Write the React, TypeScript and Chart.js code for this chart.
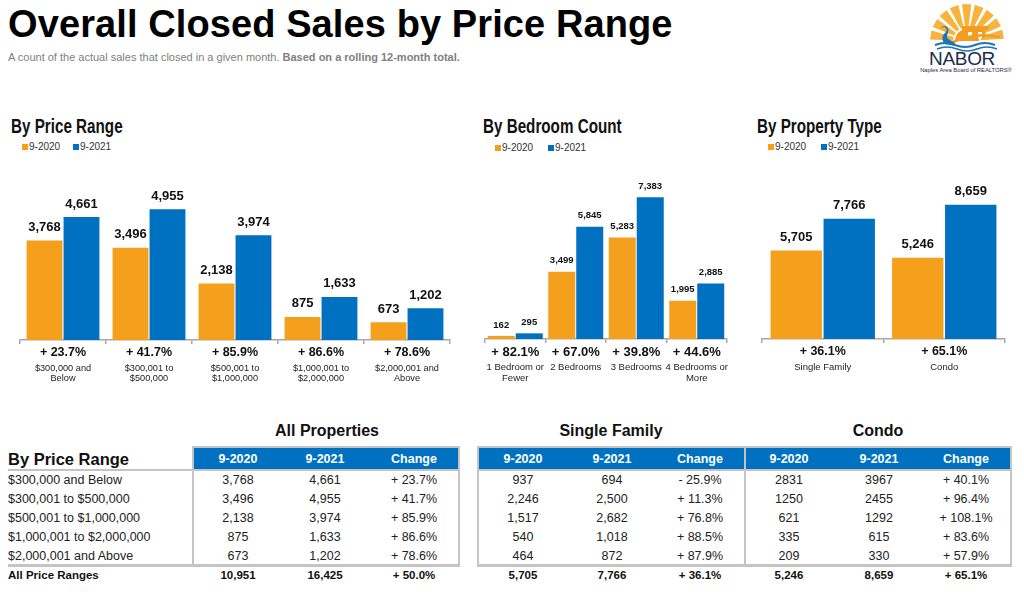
import React, { useEffect, useRef } from 'react';
import { Chart, registerables } from 'chart.js';

Chart.register(...registerables);

// ---------- data ----------
const seriesLabels = ['9-2020', '9-2021'];

const priceCategories = [
  ['$300,000 and', 'Below'],
  ['$300,001 to', '$500,000'],
  ['$500,001 to', '$1,000,000'],
  ['$1,000,001 to', '$2,000,000'],
  ['$2,000,001 and', 'Above'],
];
const price2020 = [3768, 3496, 2138, 875, 673];
const price2021 = [4661, 4955, 3974, 1633, 1202];
const priceChange = ['+ 23.7%', '+ 41.7%', '+ 85.9%', '+ 86.6%', '+ 78.6%'];

const bedroomCategories = [['1 Bedroom or', 'Fewer'], ['2 Bedrooms'], ['3 Bedrooms'], ['4 Bedrooms or', 'More']];
const bedroom2020 = [162, 3499, 5283, 1995];
const bedroom2021 = [295, 5845, 7383, 2885];
const bedroomChange = ['+ 82.1%', '+ 67.0%', '+ 39.8%', '+ 44.6%'];

const typeCategories = [['Single Family'], ['Condo']];
const type2020 = [5705, 5246];
const type2021 = [7766, 8659];
const typeChange = ['+ 36.1%', '+ 65.1%'];

const tableRanges = [
  '$300,000 and Below',
  '$300,001 to $500,000',
  '$500,001 to $1,000,000',
  '$1,000,001 to $2,000,000',
  '$2,000,001 and Above',
];
const tableHeaders = ['9-2020', '9-2021', 'Change'];
const all2020 = ['3,768', '3,496', '2,138', '875', '673'];
const all2021 = ['4,661', '4,955', '3,974', '1,633', '1,202'];
const allChange = ['+ 23.7%', '+ 41.7%', '+ 85.9%', '+ 86.6%', '+ 78.6%'];
const sf2020 = ['937', '2,246', '1,517', '540', '464'];
const sf2021 = ['694', '2,500', '2,682', '1,018', '872'];
const sfChange = ['- 25.9%', '+ 11.3%', '+ 76.8%', '+ 88.5%', '+ 87.9%'];
const condo2020 = ['2831', '1250', '621', '335', '209'];
const condo2021 = ['3967', '2455', '1292', '615', '330'];
const condoChange = ['+ 40.1%', '+ 96.4%', '+ 108.1%', '+ 83.6%', '+ 57.9%'];
const totalLabel = 'All Price Ranges';
const allTotal = ['10,951', '16,425', '+ 50.0%'];
const sfTotal = ['5,705', '7,766', '+ 36.1%'];
const condoTotal = ['5,246', '8,659', '+ 65.1%'];

// ---------- styles ----------
const ORANGE = '#F5A01D';
const BLUE = '#0070C0';
const GRAY_LINE = '#C4C4C4';
const FONT = '"Liberation Sans", Arial, Helvetica, sans-serif';

const valueLabels = {
  id: 'valueLabels',
  afterDatasetsDraw(chart: any, _args: any, opts: any) {
    const ctx = chart.ctx;
    ctx.save();
    ctx.font = `bold ${opts.size}px ${FONT}`;
    ctx.fillStyle = '#111';
    ctx.textAlign = 'center';
    ctx.textBaseline = 'middle';
    chart.data.datasets.forEach((ds: any, di: number) => {
      const meta = chart.getDatasetMeta(di);
      meta.data.forEach((bar: any, i: number) => {
        ctx.fillText(Number(ds.data[i]).toLocaleString('en-US'), bar.x, bar.y - opts.offset);
      });
    });
    ctx.restore();
  },
};

type BarProps = {
  cats: string[][];
  pct: string[];
  a: number[];
  b: number[];
  yMax: number;
  left: number;
  top: number;
  width: number;
  height: number;
  padL: number;
  padR: number;
  catPct: number;
  barPct: number;
  valueSize: number;
  valueOffset: number;
  pctSize: number;
  catSize: number;
  axisH: number;
};

function BarChart(p: BarProps) {
  const ref = useRef<HTMLCanvasElement | null>(null);
  useEffect(() => {
    if (!ref.current) return;
    const chart = new Chart(ref.current, {
      type: 'bar',
      data: {
        labels: p.pct,
        datasets: [
          { label: seriesLabels[0], data: p.a, backgroundColor: ORANGE, categoryPercentage: p.catPct, barPercentage: p.barPct },
          { label: seriesLabels[1], data: p.b, backgroundColor: BLUE, categoryPercentage: p.catPct, barPercentage: p.barPct },
        ],
      },
      options: {
        animation: false,
        responsive: false,
        maintainAspectRatio: false,
        layout: { padding: { left: p.padL, right: p.padR, top: 0, bottom: 0 } },
        plugins: {
          legend: { display: false },
          tooltip: { enabled: false },
          valueLabels: { size: p.valueSize, offset: p.valueOffset },
        } as any,
        scales: {
          y: { display: false, min: 0, max: p.yMax },
          x: {
            type: 'category',
            position: 'bottom',
            weight: 0,
            offset: true,
            grid: { display: true, drawOnChartArea: false, drawTicks: true, tickLength: 4, color: '#A8A8A8', offset: true, lineWidth: 1.5 },
            border: { display: true, color: '#A8A8A8', width: 1.5 },
            ticks: { font: { family: FONT, size: p.pctSize, weight: 'bold' }, color: '#111', padding: 1.5, maxRotation: 0, autoSkip: false },
            afterFit: (s: any) => { s.height = p.axisH; },
          },
          x2: {
            type: 'category',
            labels: p.cats as any,
            position: 'bottom',
            weight: 1,
            offset: true,
            grid: { display: false, drawTicks: false, tickLength: 0 },
            border: { display: false },
            ticks: { font: { family: FONT, size: p.catSize, lineHeight: 1.1 }, color: '#222', padding: 1.5, maxRotation: 0, autoSkip: false },
            afterFit: (s: any) => { s.height = 30; },
          },
        } as any,
      },
      plugins: [valueLabels as any],
    });
    return () => chart.destroy();
  }, []);
  return (
    <canvas
      ref={ref}
      width={p.width}
      height={p.height}
      style={{ position: 'absolute', left: p.left, top: p.top, width: p.width, height: p.height }}
    />
  );
}

const abs = (x: number, y: number, style: any, align: 'left' | 'center' = 'center') => ({
  position: 'absolute' as const,
  left: x,
  top: y,
  transform: align === 'center' ? 'translate(-50%, -50%)' : 'translate(0, -50%)',
  whiteSpace: 'nowrap' as const,
  lineHeight: 1,
  ...style,
});

function SectionTitle({ x, y, text }: { x: number; y: number; text: string }) {
  return (
    <div
      style={{
        position: 'absolute',
        left: x,
        top: y,
        transform: 'translate(0, -50%) scaleX(0.78)',
        transformOrigin: '0 50%',
        whiteSpace: 'nowrap',
        lineHeight: 1,
        fontSize: 19.5,
        fontWeight: 'bold',
        color: '#111',
        fontFamily: FONT,
      }}
    >
      {text}
    </div>
  );
}

function Legend({ x1, x2, y }: { x1: number; x2: number; y: number }) {
  const sq = (x: number, c: string) => (
    <div style={{ position: 'absolute', left: x, top: y - 3, width: 6, height: 6, background: c }} />
  );
  const st = { fontSize: 10, color: '#333', fontFamily: FONT };
  return (
    <>
      {sq(x1, ORANGE)}
      <div style={abs(x1 + 7, y, st, 'left')}>{seriesLabels[0]}</div>
      {sq(x2, BLUE)}
      <div style={abs(x2 + 7, y, st, 'left')}>{seriesLabels[1]}</div>
    </>
  );
}

const rowYs = [480, 499, 518, 537, 556];
const TOTAL_Y = 576;

function Box({ l, t, w, h, c }: { l: number; t: number; w: number; h: number; c: string }) {
  return <div style={{ position: 'absolute', left: l, top: t, width: w, height: h, background: c }} />;
}

function DataCols({ xs, cols, total }: { xs: number[]; cols: string[][]; total: string[] }) {
  const cell = { fontSize: 12.5, color: '#222', fontFamily: FONT };
  const bold = { fontSize: 11.5, color: '#111', fontWeight: 'bold', fontFamily: FONT };
  const head = { fontSize: 12.5, color: '#fff', fontWeight: 'bold', fontFamily: FONT };
  return (
    <>
      {tableHeaders.map((h, i) => (
        <div key={'h' + i} style={abs(xs[i], 458.5, head)}>{h}</div>
      ))}
      {cols.map((col, ci) =>
        col.map((v, ri) => (
          <div key={ci + '-' + ri} style={abs(xs[ci], rowYs[ri], cell)}>{v}</div>
        ))
      )}
      {total.map((v, i) => (
        <div key={'t' + i} style={abs(xs[i], TOTAL_Y, bold)}>{v}</div>
      ))}
    </>
  );
}

function Logo() {
  const rays = [];
  const cx = 967, cy = 41;
  for (let i = 0; i < 9; i++) {
    const a0 = Math.PI + (i * Math.PI) / 9 + 0.04;
    const a1 = a0 + Math.PI / 9 - 0.1;
    const r0 = 14, r1 = 37;
    const pts = [
      [cx + r0 * Math.cos(a0), cy + r0 * Math.sin(a0)],
      [cx + r1 * Math.cos(a0), cy + r1 * Math.sin(a0)],
      [cx + r1 * Math.cos(a1), cy + r1 * Math.sin(a1)],
      [cx + r0 * Math.cos(a1), cy + r0 * Math.sin(a1)],
    ];
    rays.push(<polygon key={i} points={pts.map((q) => q.join(',')).join(' ')} fill="#F7B33B" />);
  }
  return (
    <>
      <svg width={1024} height={80} style={{ position: 'absolute', left: 0, top: 0 }}>
        {rays}
        <path d={`M ${cx - 12} ${cy} A 12 12 0 0 1 ${cx + 12} ${cy} Z`} fill="#F39C1F" />
        <rect x={962} y={26} width={26} height={4} fill="#F39C1F" />
        <rect x={965} y={30} width={20} height={8} fill="#F39C1F" />
        <rect x={968} y={32} width={4} height={6} fill="#fff" />
        <rect x={978} y={32} width={4} height={6} fill="#fff" />
        <path d="M 950 42 Q 975 30 1000 36 L 1000 38 Q 975 33 952 44 Z" fill="#F39C1F" />
        <path d="M 944 44 Q 940 36 946 32 Q 948 28 944 27 L 940 28 L 944 26 Q 950 27 948 33 Q 945 38 950 40 Q 955 42 956 46 Z" fill="#1B75BC" />
        <path d="M 935 45 Q 945 41 955 45 T 975 45 T 995 45" stroke="#1B75BC" strokeWidth={2} fill="none" />
        <path d="M 937 49 Q 947 45 957 49 T 977 49 T 997 49" stroke="#1B75BC" strokeWidth={1.6} fill="none" />
      </svg>
      <div style={abs(962, 58, { fontSize: 19, color: '#1E2B4A', fontFamily: FONT, letterSpacing: -0.3 })}>NABOR</div>
      <div style={abs(966, 71, { fontSize: 5.8, color: '#1E2B4A', fontFamily: FONT })}>Naples Area Board of REALTORS®</div>
    </>
  );
}

export default function App() {
  const tblTitle = { fontSize: 16, fontWeight: 'bold', color: '#111', fontFamily: FONT };
  return (
    <div style={{ position: 'fixed', left: 0, top: 0, width: 1024, height: 598, background: '#fff', overflow: 'hidden', fontFamily: FONT }}>
      <div style={{ position: 'absolute', left: 8, top: 5, fontSize: 38, lineHeight: '38px', fontWeight: 'bold', color: '#000', whiteSpace: 'nowrap', letterSpacing: 0.1 }}>
        Overall Closed Sales by Price Range
      </div>
      <div style={abs(8, 57, { fontSize: 11, color: '#808080' }, 'left')}>
        A count of the actual sales that closed in a given month. <b>Based on a rolling 12-month total.</b>
      </div>
      <Logo />

      <SectionTitle x={11} y={127} text="By Price Range" />
      <Legend x1={22} x2={73} y={147} />
      <BarChart cats={priceCategories} pct={priceChange} a={price2020} b={price2021} yMax={7200}
        left={0} top={150} width={470} height={242} padL={20} padR={20}
        catPct={0.86} barPct={0.97} valueSize={13} valueOffset={13} pctSize={12.5} catSize={9.2} axisH={22} />

      <SectionTitle x={483} y={127} text="By Bedroom Count" />
      <Legend x1={495} x2={548} y={148} />
      <BarChart cats={bedroomCategories} pct={bedroomChange} a={bedroom2020} b={bedroom2021} yMax={9844}
        left={470} top={150} width={280} height={241} padL={15} padR={23}
        catPct={0.925} barPct={0.965} valueSize={9.5} valueOffset={11} pctSize={13} catSize={9.5} axisH={22} />

      <SectionTitle x={757} y={127} text="By Property Type" />
      <Legend x1={768} x2={821} y={147} />
      <BarChart cats={typeCategories} pct={typeChange} a={type2020} b={type2021} yMax={12200}
        left={750} top={150} width={274} height={241} padL={12} padR={19}
        catPct={0.872} barPct={0.97} valueSize={13} valueOffset={13} pctSize={12.5} catSize={9.5} axisH={22} />

      {/* Tables */}
      <div style={abs(327, 431, tblTitle)}>All Properties</div>
      <div style={abs(611, 431, tblTitle)}>Single Family</div>
      <div style={abs(878, 431, tblTitle)}>Condo</div>

      <div style={abs(8, 459, { fontSize: 16.5, fontWeight: 'bold', color: '#111' }, 'left')}>By Price Range</div>

      {/* table 1 frame */}
      <Box l={192} t={446} w={268} h={120} c={GRAY_LINE} />
      <Box l={194} t={448} w={264} h={116} c="#fff" />
      <Box l={194} t={448} w={264} h={21} c={BLUE} />
      <Box l={8} t={469} w={452} h={2} c={GRAY_LINE} />
      <Box l={8} t={564} w={452} h={3} c={GRAY_LINE} />

      {/* table 2/3 frame */}
      <Box l={477} t={446} w={535} h={120} c={GRAY_LINE} />
      <Box l={479} t={448} w={531} h={116} c="#fff" />
      <Box l={479} t={448} w={531} h={21} c={BLUE} />
      <Box l={744} t={446} w={2} h={120} c={GRAY_LINE} />
      <Box l={477} t={469} w={535} h={2} c={GRAY_LINE} />
      <Box l={477} t={564} w={535} h={3} c={GRAY_LINE} />

      {tableRanges.map((r, i) => (
        <div key={'r' + i} style={abs(8, rowYs[i], { fontSize: 12.5, color: '#222' }, 'left')}>{r}</div>
      ))}
      <div style={abs(8, TOTAL_Y, { fontSize: 11.5, fontWeight: 'bold', color: '#111' }, 'left')}>{totalLabel}</div>

      <DataCols xs={[238, 325, 414]} cols={[all2020, all2021, allChange]} total={allTotal} />
      <DataCols xs={[523, 612, 700]} cols={[sf2020, sf2021, sfChange]} total={sfTotal} />
      <DataCols xs={[789, 879, 966]} cols={[condo2020, condo2021, condoChange]} total={condoTotal} />
    </div>
  );
}
